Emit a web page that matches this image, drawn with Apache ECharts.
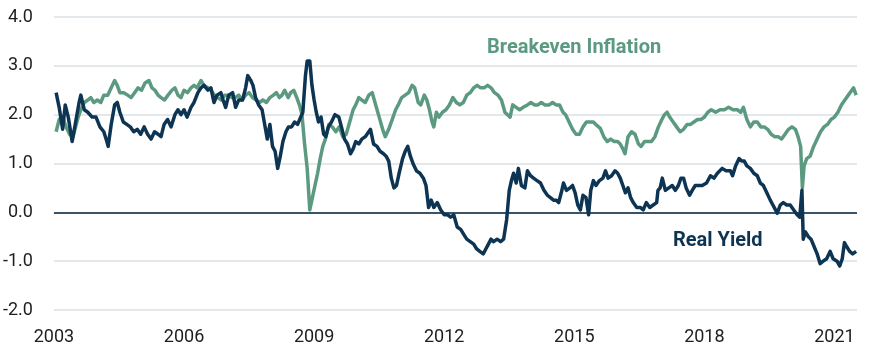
<!DOCTYPE html>
<html>
<head>
<meta charset="utf-8">
<script src="https://cdn.jsdelivr.net/npm/echarts@6/dist/echarts.min.js"></script>
<style>
  html, body { margin: 0; padding: 0; background: #ffffff; }
  #chart { width: 869px; height: 357px; }
</style>
</head>
<body>
<div id="chart"></div>
<script>
// ---- Data ----
const xTickYears = [2003, 2006, 2009, 2012, 2015, 2018, 2021];
const yTicks = [-2.0, -1.0, 0.0, 1.0, 2.0, 3.0, 4.0];

const realYears = [
  2003.05,2003.12,2003.20,2003.26,2003.33,2003.42,2003.50,2003.58,2003.62,2003.70,2003.78,2003.88,2003.97,
  2004.06,2004.15,2004.22,2004.25,2004.32,2004.40,2004.46,2004.52,2004.60,2004.68,2004.76,2004.84,2004.92,
  2005.00,2005.08,2005.16,2005.24,2005.32,2005.40,2005.47,2005.54,2005.62,2005.70,2005.79,2005.86,2005.93,
  2006.00,2006.07,2006.16,2006.23,2006.32,2006.39,2006.46,2006.55,2006.62,2006.69,2006.76,2006.85,2006.90,2006.96,
  2007.03,2007.12,2007.19,2007.26,2007.35,2007.42,2007.47,2007.54,2007.59,2007.65,2007.72,2007.80,2007.86,2007.92,2007.98,
  2008.04,2008.10,2008.16,2008.22,2008.28,2008.35,2008.41,2008.48,2008.55,2008.62,2008.69,2008.74,2008.80,2008.84,2008.90,2008.95,
  2009.00,2009.05,2009.10,2009.16,2009.22,2009.27,2009.33,2009.40,2009.48,2009.57,2009.63,2009.70,2009.77,2009.84,2009.90,2009.96,
  2010.03,2010.10,2010.18,2010.26,2010.30,2010.37,2010.45,2010.52,2010.60,2010.66,2010.72,2010.78,2010.84,2010.90,2010.96,
  2011.04,2011.10,2011.16,2011.22,2011.28,2011.36,2011.44,2011.52,2011.58,2011.64,2011.70,2011.76,2011.84,2011.92,
  2012.00,2012.08,2012.15,2012.22,2012.30,2012.38,2012.45,2012.52,2012.60,2012.68,2012.75,2012.82,2012.90,2012.96,
  2013.02,2013.08,2013.14,2013.22,2013.30,2013.37,2013.44,2013.50,2013.55,2013.60,2013.66,2013.71,2013.78,2013.86,2013.92,2013.99,
  2014.06,2014.14,2014.22,2014.30,2014.38,2014.45,2014.52,2014.58,2014.64,2014.70,2014.75,2014.82,2014.90,2014.96,
  2015.02,2015.08,2015.14,2015.20,2015.27,2015.33,2015.38,2015.44,2015.50,2015.58,2015.66,2015.72,2015.78,2015.86,2015.94,
  2016.00,2016.06,2016.12,2016.18,2016.24,2016.30,2016.36,2016.44,2016.52,2016.59,2016.66,2016.74,2016.82,2016.90,2016.93,2016.98,
  2017.03,2017.10,2017.18,2017.26,2017.33,2017.40,2017.46,2017.52,2017.58,2017.66,2017.72,2017.79,2017.86,2017.95,
  2018.05,2018.14,2018.22,2018.30,2018.41,2018.50,2018.60,2018.65,2018.72,2018.80,2018.86,2018.92,2018.98,
  2019.06,2019.14,2019.22,2019.29,2019.36,2019.44,2019.52,2019.58,2019.64,2019.68,2019.75,2019.82,2019.90,2019.98,
  2020.06,2020.14,2020.20,2020.25,2020.28,2020.33,2020.40,2020.46,2020.53,2020.60,2020.67,2020.74,2020.82,2020.90,2020.97,
  2021.06,2021.12,2021.18,2021.23,2021.28,2021.35,2021.42,2021.50
];
const realValues = [
  2.45,2.15,1.70,2.20,1.95,1.45,1.85,2.25,2.40,2.10,2.05,1.95,1.95,
  1.75,1.65,1.45,1.35,1.80,2.20,2.25,2.05,1.85,1.80,1.75,1.65,1.70,
  1.60,1.75,1.60,1.50,1.65,1.60,1.55,1.80,1.90,1.75,2.00,2.10,2.00,
  2.10,1.95,2.15,2.25,2.45,2.55,2.60,2.50,2.55,2.25,2.40,2.45,2.30,2.15,
  2.40,2.45,2.15,2.30,2.30,2.55,2.80,2.70,2.60,2.35,2.20,2.10,1.80,1.50,1.80,
  1.35,1.25,0.90,1.15,1.45,1.65,1.75,1.75,1.85,1.80,1.95,2.05,2.80,3.10,3.10,2.60,
  2.30,2.05,1.85,1.95,1.60,1.55,1.75,1.85,2.00,1.95,1.75,1.50,1.40,1.20,1.30,1.45,
  1.40,1.50,1.55,1.65,1.70,1.40,1.35,1.25,1.20,1.15,1.05,0.70,0.50,0.55,0.80,
  1.10,1.25,1.35,1.15,1.00,0.85,0.80,0.70,0.55,0.10,0.25,0.10,0.20,0.05,
  -0.05,-0.05,-0.10,-0.05,-0.30,-0.35,-0.45,-0.55,-0.60,-0.65,-0.75,-0.80,-0.85,-0.75,
  -0.65,-0.55,-0.60,-0.55,-0.60,-0.55,-0.15,0.45,0.65,0.80,0.60,0.90,0.55,0.50,0.85,0.75,
  0.70,0.65,0.60,0.45,0.35,0.30,0.25,0.25,0.20,0.40,0.60,0.45,0.50,0.55,
  0.40,0.15,0.05,0.35,0.30,-0.05,0.45,0.65,0.55,0.65,0.70,0.85,0.70,0.75,0.85,
  0.80,0.70,0.55,0.40,0.50,0.30,0.20,0.10,0.10,0.05,0.20,0.10,0.15,0.20,0.45,0.50,
  0.70,0.45,0.50,0.55,0.45,0.55,0.70,0.70,0.50,0.35,0.45,0.55,0.55,0.55,
  0.60,0.75,0.70,0.80,0.90,0.85,0.85,0.75,0.95,1.10,1.05,1.05,0.95,
  0.90,0.80,0.75,0.60,0.55,0.40,0.25,0.15,0.05,-0.02,0.15,0.20,0.15,0.15,
  0.05,-0.05,-0.10,0.45,-0.55,-0.40,-0.50,-0.55,-0.70,-0.85,-1.05,-1.00,-0.95,-0.80,-0.95,
  -1.00,-1.10,-0.95,-0.62,-0.70,-0.80,-0.85,-0.80
];

const breakevenYears = [
  2003.05,2003.12,2003.20,2003.28,2003.36,2003.44,2003.50,2003.56,2003.62,2003.70,2003.78,2003.85,2003.92,
  2004.00,2004.08,2004.15,2004.24,2004.32,2004.40,2004.46,2004.52,2004.61,2004.70,2004.78,2004.86,2004.94,
  2005.02,2005.10,2005.19,2005.26,2005.33,2005.40,2005.47,2005.55,2005.63,2005.72,2005.79,2005.86,2005.93,
  2006.00,2006.08,2006.16,2006.23,2006.30,2006.39,2006.46,2006.55,2006.62,2006.70,2006.78,2006.86,2006.94,
  2007.02,2007.10,2007.18,2007.26,2007.34,2007.42,2007.50,2007.58,2007.66,2007.74,2007.82,2007.90,2007.98,
  2008.06,2008.13,2008.20,2008.26,2008.32,2008.40,2008.46,2008.53,2008.60,2008.66,2008.72,2008.78,2008.84,2008.90,2008.96,
  2009.02,2009.08,2009.14,2009.20,2009.26,2009.34,2009.42,2009.50,2009.58,2009.66,2009.74,2009.82,2009.90,2009.96,
  2010.03,2010.10,2010.18,2010.26,2010.34,2010.42,2010.50,2010.58,2010.64,2010.72,2010.80,2010.88,2010.94,
  2011.02,2011.10,2011.18,2011.26,2011.32,2011.40,2011.46,2011.54,2011.60,2011.66,2011.72,2011.76,2011.82,2011.88,2011.96,
  2012.04,2012.12,2012.20,2012.28,2012.36,2012.44,2012.52,2012.60,2012.68,2012.76,2012.84,2012.92,
  2013.00,2013.08,2013.16,2013.24,2013.32,2013.40,2013.46,2013.52,2013.58,2013.66,2013.74,2013.82,2013.92,
  2014.00,2014.08,2014.16,2014.24,2014.32,2014.42,2014.50,2014.58,2014.66,2014.74,2014.80,2014.88,2014.96,
  2015.04,2015.12,2015.20,2015.28,2015.36,2015.44,2015.52,2015.60,2015.68,2015.76,2015.84,2015.92,
  2016.00,2016.06,2016.12,2016.17,2016.24,2016.32,2016.40,2016.48,2016.54,2016.62,2016.70,2016.78,2016.86,2016.94,
  2017.02,2017.08,2017.14,2017.20,2017.28,2017.36,2017.44,2017.52,2017.60,2017.68,2017.76,2017.84,2017.92,
  2018.00,2018.08,2018.16,2018.26,2018.36,2018.46,2018.56,2018.66,2018.76,2018.84,2018.90,2018.98,
  2019.06,2019.14,2019.22,2019.30,2019.38,2019.46,2019.54,2019.62,2019.70,2019.78,2019.86,2019.94,
  2020.02,2020.10,2020.16,2020.22,2020.26,2020.30,2020.36,2020.44,2020.52,2020.60,2020.68,2020.76,2020.84,2020.92,
  2021.00,2021.08,2021.16,2021.24,2021.32,2021.40,2021.44,2021.50
];
const breakevenValues = [
  1.65,1.90,1.95,1.75,1.60,1.55,1.75,1.95,2.10,2.25,2.30,2.35,2.25,
  2.30,2.25,2.40,2.40,2.55,2.70,2.60,2.45,2.45,2.40,2.35,2.45,2.55,
  2.50,2.65,2.70,2.55,2.50,2.40,2.35,2.30,2.40,2.50,2.55,2.40,2.35,
  2.50,2.45,2.55,2.60,2.55,2.70,2.60,2.55,2.50,2.40,2.35,2.30,2.40,
  2.40,2.35,2.35,2.40,2.30,2.40,2.45,2.35,2.30,2.25,2.30,2.25,2.35,
  2.40,2.45,2.35,2.40,2.50,2.35,2.45,2.50,2.35,2.20,2.00,1.40,0.90,0.05,0.30,
  0.55,0.80,1.10,1.35,1.50,1.80,1.75,1.65,1.75,1.55,1.60,1.85,2.10,2.20,
  2.35,2.30,2.25,2.40,2.45,2.20,1.95,1.70,1.55,1.70,1.90,2.10,2.20,
  2.35,2.40,2.45,2.60,2.55,2.25,2.20,2.40,2.30,2.10,1.85,1.75,2.05,1.95,2.05,
  2.10,2.20,2.35,2.25,2.20,2.25,2.40,2.45,2.55,2.60,2.55,2.55,
  2.60,2.55,2.45,2.40,2.30,2.05,2.00,1.95,2.20,2.15,2.10,2.15,2.20,
  2.25,2.20,2.20,2.25,2.20,2.20,2.25,2.20,2.20,2.05,2.00,1.85,1.70,
  1.60,1.60,1.75,1.85,1.85,1.85,1.78,1.72,1.55,1.45,1.50,1.45,
  1.45,1.40,1.30,1.20,1.55,1.65,1.60,1.40,1.35,1.45,1.45,1.45,1.55,1.75,
  1.90,2.00,2.05,1.95,1.85,1.75,1.65,1.70,1.80,1.80,1.85,1.90,1.90,
  1.95,2.05,2.10,2.05,2.10,2.10,2.15,2.10,2.10,2.05,2.15,1.90,
  1.75,1.85,1.85,1.75,1.75,1.70,1.60,1.55,1.55,1.50,1.60,1.70,
  1.75,1.70,1.55,1.35,0.50,0.95,1.10,1.15,1.35,1.50,1.65,1.75,1.80,1.90,
  1.95,2.05,2.20,2.30,2.40,2.50,2.55,2.40
];

const seriesNames = ['Breakeven Inflation', 'Real Yield'];
const colors = { breakeven: '#5b9a81', real: '#0d3553' };

// ---- Build chart ----
const startYear = xTickYears[0];
const toPoints = (years, vals) => years.map((y, i) => [+(y - startYear).toFixed(3), vals[i]]);

const chart = echarts.init(document.getElementById('chart'), null, { renderer: 'canvas' });
const fontFamily = 'Roboto, "Open Sans", sans-serif';

chart.setOption({
  animation: false,
  backgroundColor: '#ffffff',
  grid: { left: 53, right: 12, top: 17, bottom: 47, containLabel: false },
  xAxis: {
    type: 'value',
    min: 0,
    max: 18.52,
    interval: 3,
    axisLine: { show: false },
    axisTick: { show: false },
    splitLine: { show: false },
    axisLabel: {
      margin: 18,
      fontSize: 18,
      fontFamily: fontFamily,
      color: '#1e1e1e',
      formatter: (v) => {
        const yr = Math.round(v + startYear);
        return (Math.abs(v % 3) < 1e-6 && xTickYears.includes(yr)) ? String(yr) : '';
      }
    }
  },
  yAxis: {
    type: 'value',
    min: yTicks[0],
    max: yTicks[yTicks.length - 1],
    interval: 1,
    axisLine: { show: false },
    axisTick: { show: false },
    splitLine: { show: true, lineStyle: { color: '#d9e1e6', width: 1.5 } },
    axisLabel: {
      margin: 21,
      fontSize: 18,
      fontFamily: fontFamily,
      color: '#1e1e1e',
      formatter: (v) => v.toFixed(1)
    }
  },
  series: [
    {
      name: seriesNames[0],
      type: 'line',
      data: toPoints(breakevenYears, breakevenValues),
      showSymbol: false,
      symbol: 'none',
      lineStyle: { color: colors.breakeven, width: 3.5, join: 'round' },
      z: 3
    },
    {
      name: seriesNames[1],
      type: 'line',
      data: toPoints(realYears, realValues),
      showSymbol: false,
      symbol: 'none',
      lineStyle: { color: colors.real, width: 3.5, join: 'round' },
      z: 4,
      markLine: {
        silent: true,
        symbol: 'none',
        label: { show: false },
        lineStyle: { color: '#3b5366', width: 2, type: 'solid' },
        data: [{ yAxis: 0 }],
        z: 2
      }
    }
  ],
  graphic: [
    {
      type: 'text',
      left: 487,
      top: 38,
      style: {
        text: seriesNames[0],
        font: 'bold 20px Roboto, sans-serif',
        fill: colors.breakeven
      }
    },
    {
      type: 'text',
      left: 673,
      top: 231,
      style: {
        text: seriesNames[1],
        font: 'bold 20px Roboto, sans-serif',
        fill: colors.real
      }
    }
  ]
});
</script>
</body>
</html>
